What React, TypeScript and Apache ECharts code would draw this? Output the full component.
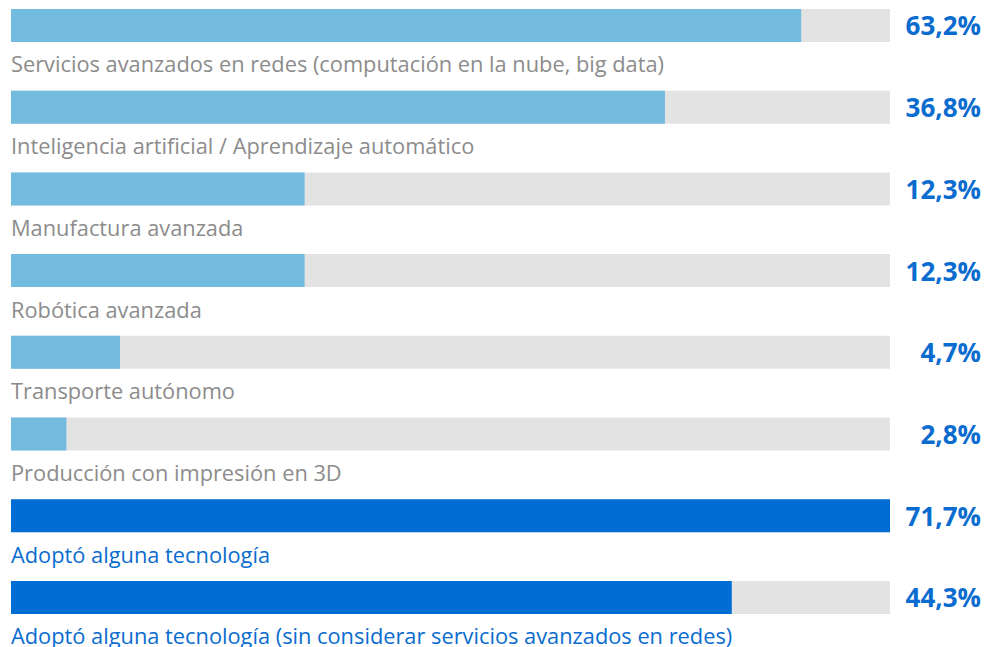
import React, { useEffect, useRef } from "react";
import * as echarts from "echarts";

const categories = [
  "Servicios avanzados en redes (computación en la nube, big data)",
  "Inteligencia artificial / Aprendizaje automático",
  "Manufactura avanzada",
  "Robótica avanzada",
  "Transporte autónomo",
  "Producción con impresión en 3D",
  "Adoptó alguna tecnología",
  "Adoptó alguna tecnología (sin considerar servicios avanzados en redes)",
];

// Bar lengths as drawn in the picture, in percent of the grey track
const barLengths = [89.9, 74.4, 33.4, 33.4, 12.4, 6.3, 100, 82.0];

// Values printed at the right of each track
const valueLabels = ["63,2%", "36,8%", "12,3%", "12,3%", "4,7%", "2,8%", "71,7%", "44,3%"];

// Which rows are summary rows (dark blue)
const summaryRows = [false, false, false, false, false, false, true, true];

const LIGHT = "#74bbe0";
const DARK = "#006dd4";
const TRACK = "#e3e3e3";
const GREY_TEXT = "#8c8c8c";
const BLUE_TEXT = "#0a6ccf";
const FONT = "'Open Sans', sans-serif";

export default function App() {
  const ref = useRef<HTMLDivElement>(null);

  useEffect(() => {
    if (!ref.current) return;
    const chart = echarts.init(ref.current, undefined, { renderer: "svg" });
    chart.setOption({
      animation: false,
      grid: { left: 11, right: 107, top: 4.6, bottom: 8.7, containLabel: false },
      xAxis: { type: "value", min: 0, max: 100, show: false },
      yAxis: [
        { type: "category", data: categories, inverse: true, show: false },
        {
          type: "category",
          data: valueLabels,
          inverse: true,
          position: "right",
          axisLine: { show: false },
          axisTick: { show: false },
          splitLine: { show: false },
          axisLabel: {
            align: "right",
            margin: 91,
            fontSize: 26,
            fontWeight: "bold",
            fontFamily: FONT,
            color: BLUE_TEXT,
          },
        },
      ],
      series: [
        {
          type: "bar",
          yAxisIndex: 0,
          barWidth: 33,
          showBackground: true,
          backgroundStyle: { color: TRACK },
          data: barLengths.map((v, i) => ({
            value: v,
            itemStyle: { color: summaryRows[i] ? DARK : LIGHT },
            label: { color: summaryRows[i] ? BLUE_TEXT : GREY_TEXT },
          })),
          label: {
            show: true,
            position: [0, 55],
            align: "left",
            verticalAlign: "middle",
            fontSize: 21.8,
            fontFamily: FONT,
            formatter: (p: any) => categories[p.dataIndex],
          },
        },
      ],
    });
    return () => chart.dispose();
  }, []);

  return (
    <div style={{ position: "absolute", left: 0, top: 0, width: 997, height: 647, overflow: "hidden" }}>
      <div
        ref={ref}
        style={{ position: "absolute", left: 0, top: -20, width: 997, height: 667 }}
      />
    </div>
  );
}
